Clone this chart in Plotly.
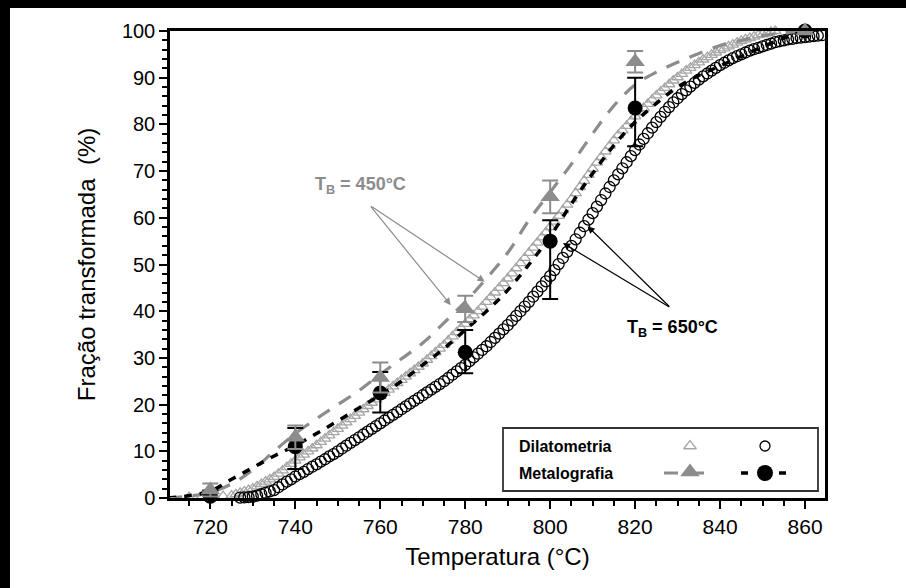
import plotly.graph_objects as go

# ---------------- data ----------------
# Dilatometria, T_B = 450°C (open grey triangles)
T_dil450 = [715, 718, 721, 723] + list(range(725, 854))
F_dil450 = [0.2, 0.3, 0.3, 0.4,
            0.5, 0.8, 1.1, 1.4, 1.7, 2.0, 2.5, 3.0, 3.5, 4.0, 4.5, 5.2, 5.9, 6.6, 7.3, 8.0,
            8.7, 9.3, 10.0, 10.6, 11.3, 12.0, 12.7, 13.4, 14.1, 14.8, 15.5, 16.2, 16.9, 17.6, 18.3,
            19.0, 19.7, 20.4, 21.1, 21.8, 22.5, 23.2, 23.9, 24.6, 25.3, 26.0, 26.7, 27.4, 28.1, 28.8,
            29.6, 30.4, 31.2, 32.0, 32.8, 33.7, 34.6, 35.5, 36.4, 37.3, 38.2, 39.1, 40.0, 41.0, 42.0,
            43.0, 44.0, 45.0, 46.0, 47.0, 48.1, 49.2, 50.3, 51.4, 52.5, 53.6, 54.7, 55.8, 56.9, 58.0,
            59.2, 60.4, 61.6, 62.8, 64.0, 65.3, 66.6, 67.9, 69.2, 70.5, 71.8, 73.0, 74.2, 75.4, 76.6,
            77.7, 78.7, 79.7, 80.7, 81.7, 82.6, 83.5, 84.4, 85.3, 86.2, 87.0, 87.8, 88.6, 89.4, 90.1,
            90.8, 91.5, 92.1, 92.7, 93.3, 93.9, 94.4, 94.9, 95.4, 95.9, 96.3, 96.7, 97.1, 97.5, 97.9,
            98.2, 98.5, 98.8, 99.1, 99.3, 99.5, 99.8, 100.0]

# Dilatometria, T_B = 650°C (open black circles)
T_dil650 = list(range(727, 866))
F_dil650 = [0.1, 0.15, 0.2,
            0.3, 0.5, 0.8, 1.1, 1.4, 1.7, 2.3, 2.9, 3.5, 4.0, 4.6, 5.1, 5.6, 6.2, 6.7, 7.2, 7.8,
            8.3, 8.9, 9.4, 10.0, 10.6, 11.2, 11.8, 12.4, 13.0, 13.6, 14.2, 14.8, 15.4, 16.0, 16.6,
            17.2, 17.8, 18.4, 19.0, 19.6, 20.2, 20.8, 21.4, 22.0, 22.6, 23.2, 23.8, 24.4, 25.0, 25.7,
            26.4, 27.1, 27.8, 28.5, 29.3, 30.1, 30.9, 31.7, 32.5, 33.4, 34.3, 35.2, 36.1, 37.0, 38.0,
            39.0, 40.0, 41.0, 42.0, 43.1, 44.2, 45.3, 46.4, 47.5, 48.8, 50.1, 51.4, 52.7, 54.0, 55.4,
            56.8, 58.2, 59.6, 61.0, 62.4, 63.8, 65.2, 66.6, 68.0, 69.3, 70.6, 71.9, 73.2, 74.5, 75.7,
            76.9, 78.1, 79.3, 80.5, 81.6, 82.7, 83.7, 84.7, 85.6, 86.5, 87.3, 88.1, 88.9, 89.6, 90.3,
            90.9, 91.5, 92.1, 92.7, 93.2, 93.7, 94.2, 94.6, 95.0, 95.4, 95.8, 96.1, 96.4, 96.7, 97.0,
            97.3, 97.6, 97.8, 98.0, 98.2, 98.3, 98.5, 98.6, 98.7, 98.8, 98.9, 99.0, 99.1, 99.2]

# Metalografia points with error bars
T_met = [710, 720, 740, 760, 780, 800, 820, 860]
F_met450 = [0.0, 1.7, 13.0, 25.8, 40.5, 64.5, 93.4, 100.0]
E_met450 = [0.0, 1.4, 2.5, 3.2, 2.8, 3.5, 2.3, 0.0]
F_met650 = [0.0, 0.4, 11.0, 22.5, 31.2, 55.0, 83.5, 100.0]
E_met650_up = [0.0, 1.2, 4.0, 4.5, 4.8, 4.5, 6.5, 0.0]
E_met650_dn = [0.0, 1.2, 4.8, 4.2, 4.5, 12.4, 8.2, 0.0]

# Fitted (dashed) curves through the metallography data
T_fit450 = [710, 715, 720, 725, 730, 735, 740, 745, 750, 755, 760, 765, 770, 775, 780, 785, 790,
            795, 800, 805, 810, 815, 820, 825, 830, 835, 840, 845, 850, 855, 860]
F_fit450 = [0.0, 0.4, 1.2, 3.0, 6.0, 10.0, 13.8, 17.0, 20.0, 23.0, 26.5, 29.8, 33.2, 37.5, 42.0,
            47.0, 52.5, 59.5, 65.5, 71.5, 78.0, 84.0, 88.5, 91.2, 93.3, 95.2, 96.9, 98.0, 99.0,
            99.6, 100.0]
T_fit650 = [710, 715, 720, 725, 730, 735, 740, 745, 750, 755, 760, 765, 770, 775, 780, 785, 790,
            795, 800, 805, 810, 815, 820, 825, 830, 835, 840, 845, 850, 855, 860]
F_fit650 = [0.0, 0.5, 1.5, 4.0, 6.5, 9.0, 11.2, 13.8, 16.5, 19.3, 22.0, 25.0, 28.5, 32.0, 36.0,
            40.0, 44.5, 50.0, 56.0, 63.0, 69.5, 75.5, 80.5, 84.5, 88.0, 90.5, 92.5, 94.6, 96.6,
            98.5, 100.0]

X_TICKS = [720, 740, 760, 780, 800, 820, 840, 860]
Y_TICKS = [0, 10, 20, 30, 40, 50, 60, 70, 80, 90, 100]

GREY = "#8c8c8c"
LGREY = "#a6a6a6"
FONT = "Liberation Sans, Arial, sans-serif"

# plot-area pixel geometry
L, R, T, B = 170, 825, 31, 498
W, H = 906, 588


def px(xp):
    return (xp - L) / (R - L)


def py(yp):
    return (B - yp) / (B - T)


fig = go.Figure()

fig.add_trace(go.Scatter(
    x=T_dil450, y=F_dil450, mode="markers",
    marker=dict(symbol="triangle-up-open", size=10, color=LGREY, line=dict(width=1.3, color=LGREY)),
    showlegend=False, cliponaxis=False))
fig.add_trace(go.Scatter(
    x=T_dil650, y=F_dil650, mode="markers",
    marker=dict(symbol="circle-open", size=11, color="black", line=dict(width=1.3, color="black")),
    showlegend=False, cliponaxis=False))

fig.add_trace(go.Scatter(
    x=T_fit450, y=F_fit450, mode="lines", line=dict(color=GREY, width=3.2, dash="14px,11px"),
    line_shape="spline", showlegend=False))
fig.add_trace(go.Scatter(
    x=T_fit650, y=F_fit650, mode="lines", line=dict(color="black", width=3.5, dash="8px,8px"),
    line_shape="spline", showlegend=False))

fig.add_trace(go.Scatter(
    x=T_met, y=F_met650, mode="markers",
    marker=dict(symbol="circle", size=15, color="black"),
    error_y=dict(type="data", array=E_met650_up, arrayminus=E_met650_dn, color="black",
                 thickness=2, width=8),
    showlegend=False, cliponaxis=False))
fig.add_trace(go.Scatter(
    x=T_met, y=F_met450, mode="markers",
    marker=dict(symbol="triangle-up", size=17, color=GREY),
    error_y=dict(type="data", array=E_met450, color=GREY, thickness=2, width=8),
    showlegend=False, cliponaxis=False))

# ---------- legend (drawn on an overlay pixel axis) ----------
fig.add_trace(go.Scatter(x=[690], y=[446], mode="markers", xaxis="x2", yaxis="y2",
                         marker=dict(symbol="triangle-up-open", size=11, color=LGREY,
                                     line=dict(width=1.3, color=LGREY)), showlegend=False))
fig.add_trace(go.Scatter(x=[765], y=[446], mode="markers", xaxis="x2", yaxis="y2",
                         marker=dict(symbol="circle-open", size=10, color="black",
                                     line=dict(width=1.3, color="black")), showlegend=False))
fig.add_trace(go.Scatter(x=[664, 716], y=[473, 473], mode="lines", xaxis="x2", yaxis="y2",
                         line=dict(color=GREY, width=3.2, dash="14px,12px"), showlegend=False))
fig.add_trace(go.Scatter(x=[690], y=[472], mode="markers", xaxis="x2", yaxis="y2",
                         marker=dict(symbol="triangle-up", size=17, color=GREY), showlegend=False))
fig.add_trace(go.Scatter(x=[741, 786], y=[473, 473], mode="lines", xaxis="x2", yaxis="y2",
                         line=dict(color="black", width=3.5, dash="7px,12px"), showlegend=False))
fig.add_trace(go.Scatter(x=[765], y=[473], mode="markers", xaxis="x2", yaxis="y2",
                         marker=dict(symbol="circle", size=16, color="black"), showlegend=False))

shapes = [
    # legend box
    dict(type="rect", xref="paper", yref="paper", x0=px(503), x1=px(818), y0=py(491), y1=py(428),
         line=dict(color="#333", width=1.8), fillcolor="rgba(0,0,0,0)"),
    # outer black frame (top + left)
    dict(type="rect", xref="paper", yref="paper", x0=px(0), x1=px(W), y0=py(8), y1=py(0),
         line=dict(width=0), fillcolor="black", layer="above"),
    dict(type="rect", xref="paper", yref="paper", x0=px(0), x1=px(10), y0=py(H), y1=py(0),
         line=dict(width=0), fillcolor="black", layer="above"),
]

annotations = [
    dict(xref="paper", yref="paper", x=px(517), y=py(446), xanchor="left", yanchor="middle",
         text="<b>Dilatometria</b>", showarrow=False, font=dict(size=16, color="black", family=FONT)),
    dict(xref="paper", yref="paper", x=px(517), y=py(473), xanchor="left", yanchor="middle",
         text="<b>Metalografia</b>", showarrow=False, font=dict(size=16, color="black", family=FONT)),
    dict(xref="paper", yref="paper", x=px(360), y=py(186), xanchor="center", yanchor="middle",
         text="<b>T<sub>B</sub> = 450°C</b>", showarrow=False, font=dict(size=18, color=GREY, family=FONT)),
    dict(xref="paper", yref="paper", x=px(672), y=py(329), xanchor="center", yanchor="middle",
         text="<b>T<sub>B</sub> = 650°C</b>", showarrow=False, font=dict(size=18, color="black", family=FONT)),
]

# arrows
for tip, tail, col in [((776.6, 41.3), (757.5, 62.7), GREY),
                       ((784.6, 46.3), (757.5, 62.7), GREY),
                       ((803.0, 54.6), (828.4, 40.7), "black"),
                       ((808.8, 58.2), (828.4, 40.7), "black")]:
    annotations.append(dict(x=tip[0], y=tip[1], ax=tail[0], ay=tail[1], xref="x", yref="y",
                            axref="x", ayref="y", text="", showarrow=True, arrowhead=2,
                            arrowsize=1.2, arrowwidth=1.2, arrowcolor=col))

fig.update_layout(
    width=W, height=H,
    margin=dict(l=L, r=W - R, t=T, b=H - B),
    paper_bgcolor="white", plot_bgcolor="white",
    font=dict(family=FONT, color="black"),
    xaxis=dict(range=[710.5, 864.7], tickvals=X_TICKS, ticks="outside", ticklen=8, tickwidth=2,
               tickcolor="black", showline=True, linecolor="black", linewidth=2.5, mirror=True,
               showgrid=False, zeroline=False, tickfont=dict(size=21),
               minor=dict(dtick=5, tick0=710, ticks="outside", ticklen=5, tickwidth=1.5, tickcolor="black"),
               title=dict(text="Temperatura (°C)", font=dict(size=24), standoff=12)),
    yaxis=dict(range=[0, 100], tickvals=Y_TICKS, ticks="outside", ticklen=8, tickwidth=2,
               tickcolor="black", showline=True, linecolor="black", linewidth=2.5, mirror=True,
               showgrid=False, zeroline=False, tickfont=dict(size=20),
               minor=dict(dtick=2, ticks="outside", ticklen=5, tickwidth=1.5, tickcolor="black"),
               title=dict(text="Fração transformada  (%)", font=dict(size=24), standoff=20)),
    xaxis2=dict(range=[L, R], overlaying="x", visible=False, domain=[0, 1]),
    yaxis2=dict(range=[B, T], overlaying="y", visible=False, anchor="x2"),
    shapes=shapes, annotations=annotations,
)

fig.write_html("out.html")
